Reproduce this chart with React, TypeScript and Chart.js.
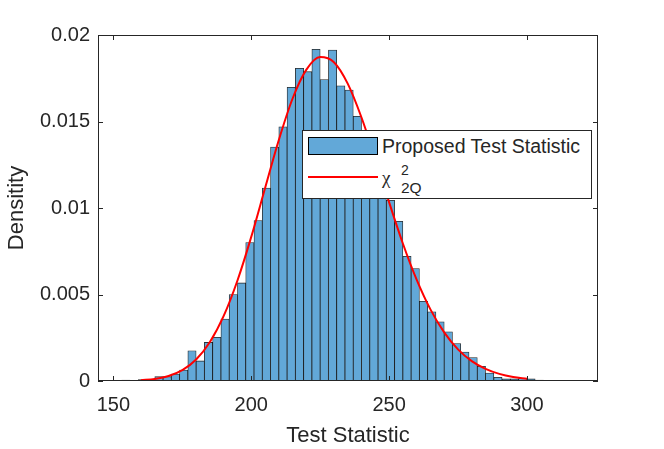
import { useEffect, useRef } from 'react';
import { Chart, registerables } from 'chart.js';

Chart.register(...registerables);

// histogram bins (bin width 3), centres and densities
const BIN_CENTERS = [
  154.5, 157.5, 160.5, 163.5, 166.5, 169.5, 172.5, 175.5, 178.5, 181.5,
  184.5, 187.5, 190.5, 193.5, 196.5, 199.5, 202.5, 205.5, 208.5, 211.5,
  214.5, 217.5, 220.5, 223.5, 226.5, 229.5, 232.5, 235.5, 238.5, 241.5,
  244.5, 247.5, 250.5, 253.5, 256.5, 259.5, 262.5, 265.5, 268.5, 271.5,
  274.5, 277.5, 280.5, 283.5, 286.5, 289.5, 292.5, 295.5, 298.5, 301.5,
  304.5, 307.5, 310.5, 313.5,
];
const BIN_DENSITY = [
  0.00005, 0.00002, 0.00008, 0.0001, 0.00025, 0.00025, 0.0004, 0.00063, 0.00175, 0.00116,
  0.00223, 0.00252, 0.00358, 0.005, 0.00567, 0.008, 0.00927, 0.01115, 0.01352, 0.01469,
  0.01698, 0.01808, 0.01788, 0.01917, 0.01742, 0.01913, 0.01706, 0.01682, 0.0153, 0.0142,
  0.0128, 0.0115, 0.01044, 0.00923, 0.00721, 0.0065, 0.00461, 0.004, 0.00342, 0.00284,
  0.00217, 0.00167, 0.00136, 0.00085, 0.00046, 0.00021, 0.00012, 0.00012, 0.00015, 0.00012,
  0.00006, 0.00002, 0, 0.00002,
];

// red chi-square density curve
const CURVE_X = [
  160, 165, 170, 175, 180, 185, 190, 195, 200, 205, 210, 215, 220, 225, 230,
  235, 240, 245, 250, 255, 260, 265, 270, 275, 280, 285, 290, 295, 300,
];
const CURVE_Y = [
  0.000045, 0.00012, 0.000288, 0.000626, 0.00124, 0.00225, 0.00376, 0.00581, 0.00833, 0.01114,
  0.01393, 0.01633, 0.018, 0.01873, 0.01843, 0.01719, 0.01523, 0.01285, 0.01034, 0.00795,
  0.00586, 0.00414, 0.00281, 0.00183, 0.00115, 0.0007, 0.00041, 0.00023, 0.00013,
];

const X_TICKS = [150, 200, 250, 300];
const Y_TICKS = [0, 0.005, 0.01, 0.015, 0.02];

const BAR_BLUE = '#62a8d8';
const AXIS_GREY = '#262626';
const FONT = "'Liberation Sans', Arial, Helvetica, sans-serif";

// matlab-ish axes box with ticks pointing inwards
const boxPlugin = {
  id: 'matlabBox',
  afterDraw(chart: any) {
    const { ctx, chartArea, scales } = chart;
    const { left, right, top, bottom } = chartArea;
    ctx.save();
    ctx.strokeStyle = AXIS_GREY;
    ctx.lineWidth = 1;
    ctx.beginPath();
    X_TICKS.forEach((v) => {
      const px = Math.round(scales.x.getPixelForValue(v)) + 0.5;
      ctx.moveTo(px, bottom);
      ctx.lineTo(px, bottom - 5);
      ctx.moveTo(px, top);
      ctx.lineTo(px, top + 5);
    });
    Y_TICKS.forEach((v) => {
      const py = Math.round(scales.y.getPixelForValue(v)) + 0.5;
      ctx.moveTo(left, py);
      ctx.lineTo(left + 5, py);
      ctx.moveTo(right, py);
      ctx.lineTo(right - 5, py);
    });
    ctx.stroke();
    ctx.strokeRect(
      Math.round(left) + 0.5,
      Math.round(top) + 0.5,
      Math.round(right - left) - 1,
      Math.round(bottom - top) - 1,
    );
    ctx.restore();
  },
};

export default function App() {
  const canvasRef = useRef<HTMLCanvasElement>(null);
  const chartRef = useRef<Chart | null>(null);

  useEffect(() => {
    if (!canvasRef.current) return;
    chartRef.current?.destroy();

    chartRef.current = new Chart(canvasRef.current, {
      type: 'bar',
      data: {
        datasets: [
          {
            type: 'line',
            label: 'chi2',
            data: CURVE_X.map((x, i) => ({ x, y: CURVE_Y[i] })),
            borderColor: '#ff0000',
            borderWidth: 2,
            pointRadius: 0,
            cubicInterpolationMode: 'monotone',
            fill: false,
            order: 0,
          },
          {
            type: 'bar',
            label: 'Proposed Test Statistic',
            data: BIN_CENTERS.map((x, i) => ({ x, y: BIN_DENSITY[i] })),
            backgroundColor: BAR_BLUE,
            borderColor: 'rgba(0,0,0,0.85)',
            borderWidth: 0.8,
            barPercentage: 1,
            categoryPercentage: 1,
            order: 1,
          },
        ] as any,
      },
      options: {
        responsive: false,
        animation: false,
        layout: { padding: { left: 0, top: 35, right: 66, bottom: 0 } },
        plugins: {
          legend: { display: false },
          tooltip: { enabled: false },
        },
        scales: {
          x: {
            type: 'linear',
            min: 144.4,
            max: 325.8,
            offset: false,
            grid: { display: false, drawTicks: false },
            border: { display: false },
            afterBuildTicks: (s: any) => {
              s.ticks = X_TICKS.map((value) => ({ value }));
            },
            afterFit: (s: any) => {
              s.height = 68;
            },
            ticks: {
              autoSkip: false,
              maxRotation: 0,
              padding: 12,
              color: AXIS_GREY,
              font: { family: FONT, size: 20 },
              callback: (v: any) => String(v),
            },
            title: {
              display: true,
              text: 'Test Statistic',
              color: AXIS_GREY,
              font: { family: FONT, size: 22 },
              padding: 0,
            },
          },
          y: {
            min: 0,
            max: 0.02,
            grid: { display: false, drawTicks: false },
            border: { display: false },
            afterBuildTicks: (s: any) => {
              s.ticks = Y_TICKS.map((value) => ({ value }));
            },
            afterFit: (s: any) => {
              s.width = 98;
            },
            ticks: {
              padding: 8,
              color: AXIS_GREY,
              font: { family: FONT, size: 20 },
              callback: (v: any) => String(v),
            },
            title: {
              display: true,
              text: 'Densitity',
              color: AXIS_GREY,
              font: { family: FONT, size: 22 },
              padding: { top: 4, bottom: 0 },
            },
          },
        },
      },
      plugins: [boxPlugin],
    });

    return () => {
      chartRef.current?.destroy();
      chartRef.current = null;
    };
  }, []);

  const txt = { position: 'absolute' as const, color: AXIS_GREY, whiteSpace: 'nowrap' as const };

  return (
    <div style={{ position: 'fixed', left: 0, top: 0, width: 664, height: 449, background: '#fff' }}>
      <canvas ref={canvasRef} width={664} height={449} />
      {/* legend sits on top of the bars, like matlab's 'best' placement */}
      <div
        style={{
          position: 'absolute',
          left: 302,
          top: 130,
          width: 290,
          height: 69,
          boxSizing: 'border-box',
          border: `1px solid ${AXIS_GREY}`,
          background: '#fff',
        }}
      />
      <div
        style={{
          position: 'absolute',
          left: 308,
          top: 137,
          width: 70,
          height: 18,
          boxSizing: 'border-box',
          border: '1px solid #000',
          background: BAR_BLUE,
        }}
      />
      <div style={{ position: 'absolute', left: 308, top: 176, width: 70, height: 2, background: '#ff0000' }} />
      <div style={{ ...txt, left: 382, top: 136.5, fontFamily: FONT, fontSize: 19.5, lineHeight: '19.5px' }}>
        Proposed Test Statistic
      </div>
      <div style={{ ...txt, left: 382, top: 168, fontFamily: "'Liberation Serif', serif", fontSize: 19, lineHeight: '19px' }}>
        χ
      </div>
      <div style={{ ...txt, left: 401, top: 163, fontFamily: FONT, fontSize: 14, lineHeight: '14px' }}>2</div>
      <div style={{ ...txt, left: 401, top: 179.5, fontFamily: FONT, fontSize: 15.5, lineHeight: '15.5px' }}>2Q</div>
    </div>
  );
}
